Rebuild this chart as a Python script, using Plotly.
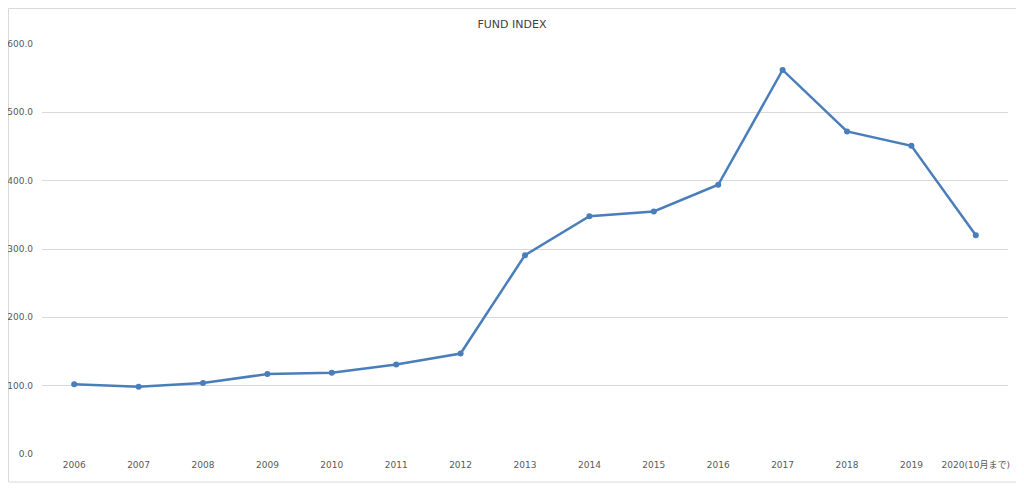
import plotly.graph_objects as go

years = ["2006", "2007", "2008", "2009", "2010", "2011", "2012", "2013",
         "2014", "2015", "2016", "2017", "2018", "2019", "2020(10月まで)"]
index_values = [102, 98.5, 104, 117, 119, 131, 147, 291, 348, 355, 394, 562, 472, 451, 320]
y_ticks = [0, 100, 200, 300, 400, 500, 600]

# page is rendered with an 8px body margin, so the figure is shifted by 8px
OFF = 8
W, H = 1024 - OFF, 489 - OFF
ml, mr, mt, mb = 42 - OFF, 16, 44 - OFF, 35
pw, ph = W - ml - mr, H - mt - mb

fig = go.Figure()
fig.add_trace(go.Scatter(
    x=years, y=index_values, mode="lines+markers",
    line=dict(color="#4A7EBB", width=2.5),
    marker=dict(color="#4A7EBB", size=6),
    showlegend=False,
))

def px_x(p):
    return (p - OFF - ml) / pw

def px_y(p):
    return (H - mb - (p - OFF)) / ph

fig.add_shape(type="rect", xref="paper", yref="paper",
              x0=px_x(8.5), x1=px_x(1017), y0=px_y(482), y1=px_y(8.5),
              line=dict(color="#D9D9D9", width=1), layer="below")

fig.update_layout(
    width=W, height=H,
    margin=dict(l=ml, r=mr, t=mt, b=mb, autoexpand=False),
    paper_bgcolor="white", plot_bgcolor="white",
    font=dict(family="DejaVu Sans, Arial, sans-serif", size=9, color="#595959"),
    title=dict(text="FUND INDEX", x=(512 - OFF) / W, xref="container", xanchor="center",
               y=1 - (24 - OFF) / H, yanchor="middle",
               font=dict(size=11, color="#404040")),
    xaxis=dict(type="category", range=[-0.5, len(years) - 0.5],
               showgrid=False, showline=False, zeroline=False,
               ticks="", automargin=False, ticklabelstandoff=4,
               tickfont=dict(size=9, color="#595959",
                             family="DejaVu Sans, Noto Sans CJK JP, sans-serif")),
    yaxis=dict(range=[0, 600], tickvals=y_ticks, tickformat=".1f",
               showgrid=True, gridcolor="#D9D9D9", gridwidth=1,
               zeroline=False, showline=False, ticks="", automargin=False,
               tickfont=dict(size=9, color="#595959"), ticklabelstandoff=8),
)

fig.write_html("out.html")
